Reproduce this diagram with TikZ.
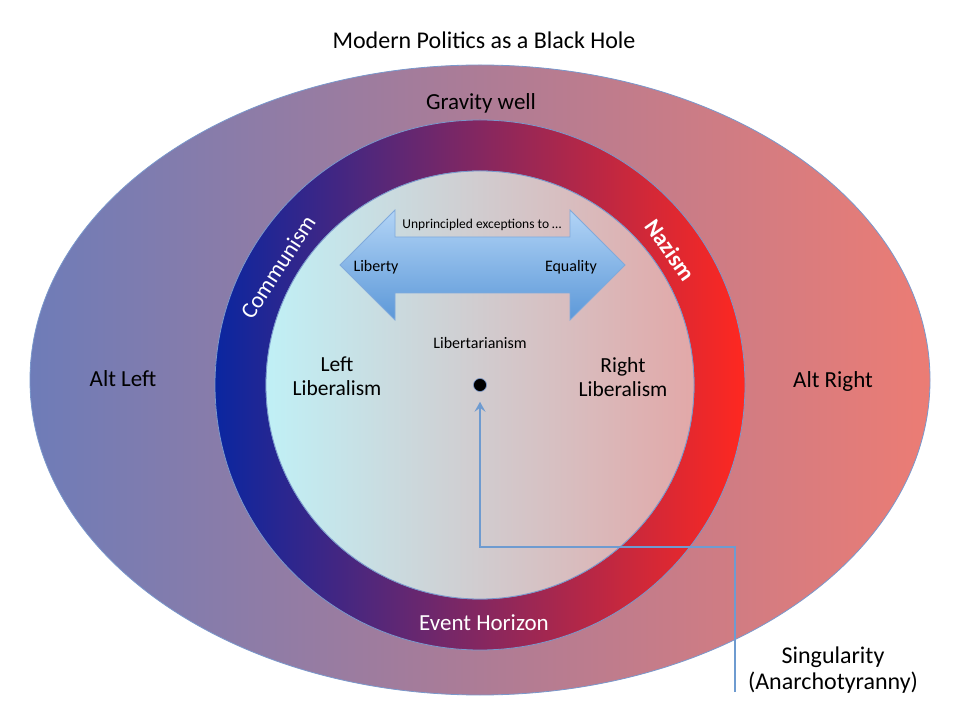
\documentclass[tikz,border=0pt]{standalone}
\usepackage{fontspec}
\setmainfont{Carlito}
\usetikzlibrary{calc,arrows.meta}
\usepackage{xcolor}
\definecolor{wellleft}{RGB}{110,124,184}
\definecolor{wellright}{RGB}{236,124,116}
\definecolor{ringblue}{RGB}{10,38,160}
\definecolor{ringpurple}{RGB}{112,24,112}
\definecolor{ringred}{RGB}{255,40,32}
\definecolor{corecyan}{RGB}{192,240,246}
\definecolor{coremid}{RGB}{214,214,216}
\definecolor{corepink}{RGB}{226,168,168}
\definecolor{rimblue}{RGB}{122,152,204}
\definecolor{arrowtop}{RGB}{178,212,246}
\definecolor{arrowbottom}{RGB}{92,152,216}
\definecolor{arrowedge}{RGB}{128,170,220}
\definecolor{pointerblue}{RGB}{110,155,208}

\begin{document}
\begin{tikzpicture}[
    x=1pt, y=1pt,
    bigtext/.style={font=\fontsize{23}{25}\selectfont, align=center, inner sep=0pt},
    libtext/.style={font=\fontsize{21.5}{24}\selectfont, align=center, inner sep=0pt},
    midtext/.style={font=\fontsize{16}{18}\selectfont, align=center, inner sep=0pt},
    smalltext/.style={font=\fontsize{13.5}{15}\selectfont, align=center, inner sep=0pt},
    ringlabel/.style={bigtext, text=white},
    rim/.style={draw=rimblue, line width=0.8pt},
    arrowbox/.style={draw=arrowedge, line width=0.8pt, top color=arrowtop, bottom color=arrowbottom},
    pointer/.style={-{Stealth[length=10pt, width=11pt, inset=4pt]}, line width=2.6pt, draw=pointerblue}
]
\useasboundingbox (0,0) rectangle (960,720);

% gravity well, event horizon ring, core
\coordinate (hole) at (480,335);
\path[rim, left color=wellleft, right color=wellright] (480,340) ellipse [x radius=450, y radius=315];
\path[rim, even odd rule, left color=ringblue, middle color=ringpurple, right color=ringred]
    (hole) circle [radius=265] (hole) circle [radius=214];
\path[rim, left color=corecyan, middle color=coremid, right color=corepink] (hole) circle [radius=214];

% liberty <-> equality
\path[arrowbox] (340,455) -- (395,510) -- (395,483) -- (570,483) -- (570,510) -- (625,455)
    -- (570,400) -- (570,427) -- (395,427) -- (395,400) -- cycle;

\node[bigtext, font=\fontsize{24}{26}\selectfont] (title) at (484,680) {Modern Politics as a Black Hole};
\node[bigtext] (gravity) at (481,617) {Gravity well};
\node[bigtext] (altleft) at (123,341) {Alt Left};
\node[bigtext] (altright) at (833,339) {Alt Right};
\node[libtext] (leftlib) at (337,344) {Left\\Liberalism};
\node[libtext] (rightlib) at (623,343) {Right\\Liberalism};
\node[midtext] (libert) at (480,377) {Libertarianism};
\node[midtext] (liberty) at (376,453) {Liberty};
\node[midtext] (equality) at (571,453) {Equality};
\node[smalltext] (exceptions) at (482,495) {Unprincipled exceptions to \dots};

\node[ringlabel, rotate=57] (communism) at (278,453) {Communism};
\node[ringlabel, rotate=-55, font=\fontsize{23}{25}\selectfont\bfseries] (nazism) at (670,470) {Nazism};
\node[ringlabel] (horizon) at (484,97) {Event Horizon};

\node[bigtext, font=\fontsize{24}{26}\selectfont] (singularity) at (833,50) {Singularity\\(Anarchotyranny)};
\node[circle, fill=black, draw=rimblue, line width=0.6pt, minimum size=13pt, inner sep=0pt] (dot) at (hole) {};

\coordinate (tail) at (735,28);
\draw[pointer, shorten >=10pt] (tail) -- ++(0,145) -| (dot.south);

\end{tikzpicture}
\end{document}
